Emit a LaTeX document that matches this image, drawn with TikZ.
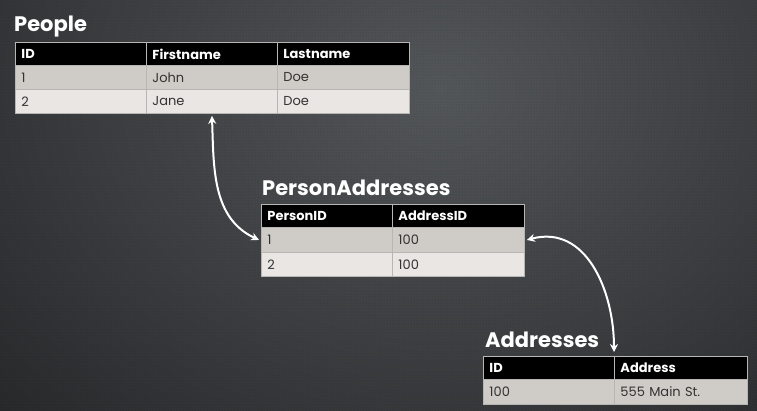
\documentclass[tikz,border=0pt]{standalone}
\usepackage{fontspec}
\setmainfont{Poppins}
\usetikzlibrary{arrows.meta,patterns}
\definecolor{bgin}{HTML}{54575A}
\definecolor{bgout}{HTML}{28292B}
\definecolor{rowa}{HTML}{CFCBC6}
\definecolor{rowb}{HTML}{E9E6E3}
\definecolor{celltext}{HTML}{333333}
\definecolor{cellline}{HTML}{B8B6B4}
\tikzset{
  cellbase/.style={draw=cellline, line width=0.9pt, anchor=north west, inner xsep=6pt, inner ysep=0pt, align=left, font=\fontsize{13}{15}\selectfont},
  hcell/.style={cellbase, fill=black, text=white, font=\fontsize{13}{15}\selectfont\bfseries},
  acell/.style={cellbase, fill=rowa, text=celltext},
  bcell/.style={cellbase, fill=rowb, text=celltext},
  ttl/.style={anchor=base west, text=white, inner sep=0pt, font=\fontsize{21}{25}\selectfont\bfseries},
  link/.style={draw=white, line width=2pt, {Stealth[length=8pt,width=8pt]}-{Stealth[length=8pt,width=8pt]}},
}
% \tcell{style}{name}{x}{y}{w}{h}{text}
\newcommand\tcell[7]{\node[#1, minimum height=#6pt, text width=#5pt-12pt, minimum width=#5pt] (#2) at (#3pt,-#4pt) {#7};}
\begin{document}
\begin{tikzpicture}[x=1pt,y=1pt]
\useasboundingbox (0,0) rectangle (757,-411);
\shade[inner color=bgin, outer color=bgout] (-160,380) rectangle (1040,-560);
\fill[pattern=dots, pattern color=black, opacity=0.18] (0,0) rectangle (757,-411);
% People
\node[ttl] (pt) at (14,-32) {People};
\tcell{hcell}{p-h1}{15}{42}{131}{23}{ID}
\tcell{hcell}{p-h2}{146}{42}{131}{23}{Firstname}
\tcell{hcell}{p-h3}{277}{42}{132}{23}{Lastname}
\tcell{acell}{p-r1c1}{15}{65}{131}{24}{1}
\tcell{acell}{p-r1c2}{146}{65}{131}{24}{John}
\tcell{acell}{p-r1c3}{277}{65}{132}{24}{Doe}
\tcell{bcell}{p-r2c1}{15}{89}{131}{24}{2}
\tcell{bcell}{p-r2c2}{146}{89}{131}{24}{Jane}
\tcell{bcell}{p-r2c3}{277}{89}{132}{24}{Doe}
% PersonAddresses
\node[ttl] (pat) at (262,-196) {PersonAddresses};
\tcell{hcell}{pa-h1}{261}{204}{131}{23}{PersonID}
\tcell{hcell}{pa-h2}{392}{204}{132}{23}{AddressID}
\tcell{acell}{pa-r1c1}{261}{227}{131}{25}{1}
\tcell{acell}{pa-r1c2}{392}{227}{132}{25}{100}
\tcell{bcell}{pa-r2c1}{261}{252}{131}{24}{2}
\tcell{bcell}{pa-r2c2}{392}{252}{132}{24}{100}
% Addresses
\node[ttl] (adt) at (485,-348) {Addresses};
\tcell{hcell}{ad-h1}{483}{356}{131}{23}{ID}
\tcell{hcell}{ad-h2}{614}{356}{133}{23}{Address}
\tcell{acell}{ad-r1c1}{483}{379}{131}{25}{100}
\tcell{acell}{ad-r1c2}{614}{379}{133}{25}{555 Main St.}
% connectors
\draw[link] ([yshift=-2pt]p-r2c2.south) to[out=-88,in=155,looseness=1] ([xshift=-2pt]pa-r1c1.west);
\draw[link] ([xshift=2pt]pa-r1c2.east) to[out=15,in=90,looseness=1.1] ([yshift=4pt]ad-h2.north west);
\end{tikzpicture}
\end{document}
